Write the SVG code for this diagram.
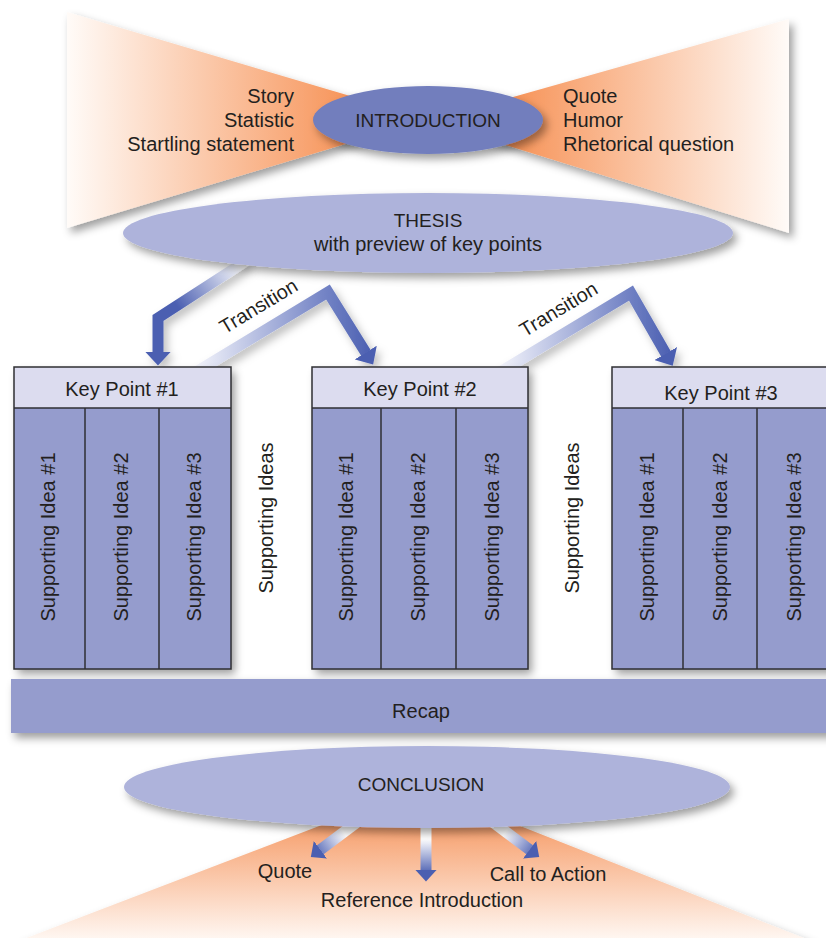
<svg xmlns="http://www.w3.org/2000/svg" width="826" height="938" viewBox="0 0 826 938">
  <defs>
    <style>
      text { font-family: "Liberation Sans", Arial, sans-serif; font-size: 20px; fill: #231f20; }
      .caps { font-size: 19px; }
      .mid { text-anchor: middle; }
      .end { text-anchor: end; }
      .shade { filter: url(#shadow); }
      .soft { filter: url(#softshadow); }
      .header { fill: #dcdcef; }
      .body { fill: #959ccd; }
      .frame { fill: none; stroke: #2f2f33; stroke-width: 1.5; }
      .divider { stroke: #2f2f33; stroke-width: 1.5; }
      .arrow { fill: none; stroke-width: 11; stroke-linejoin: miter; stroke-linecap: butt; }
    </style>
    <filter id="shadow" x="-10%" y="-20%" width="125%" height="150%">
      <feDropShadow dx="4" dy="5" stdDeviation="4" flood-color="#000" flood-opacity="0.38"/>
    </filter>
    <filter id="softshadow" x="-20%" y="-20%" width="150%" height="150%">
      <feDropShadow dx="4" dy="5" stdDeviation="4" flood-color="#000" flood-opacity="0.25"/>
    </filter>
    <linearGradient id="wingLeft" x1="0" y1="0" x2="1" y2="0">
      <stop offset="0" stop-color="#fffbf8"/>
      <stop offset="0.77" stop-color="#f7965c"/>
      <stop offset="1" stop-color="#f5884a"/>
    </linearGradient>
    <linearGradient id="wingRight" x1="1" y1="0" x2="0" y2="0">
      <stop offset="0" stop-color="#fffbf8"/>
      <stop offset="0.75" stop-color="#f7965c"/>
      <stop offset="1" stop-color="#f5884a"/>
    </linearGradient>
    <linearGradient id="fan" x1="0" y1="0" x2="0" y2="1">
      <stop offset="0" stop-color="#f5955e"/>
      <stop offset="0.3" stop-color="#f7a677"/>
      <stop offset="1" stop-color="#fff9f5"/>
    </linearGradient>
    <linearGradient id="gArrow1" gradientUnits="userSpaceOnUse" x1="242" y1="264" x2="180" y2="310">
      <stop offset="0" stop-color="#ffffff"/>
      <stop offset="1" stop-color="#4b5fb1"/>
    </linearGradient>
    <linearGradient id="gArrow2" gradientUnits="userSpaceOnUse" x1="196" y1="0" x2="372" y2="0">
      <stop offset="0" stop-color="#f3f4fb"/>
      <stop offset="0.72" stop-color="#7585c6"/>
      <stop offset="1" stop-color="#4b5fb1"/>
    </linearGradient>
    <linearGradient id="gArrow3" gradientUnits="userSpaceOnUse" x1="500" y1="0" x2="672" y2="0">
      <stop offset="0" stop-color="#f3f4fb"/>
      <stop offset="0.72" stop-color="#7585c6"/>
      <stop offset="1" stop-color="#4b5fb1"/>
    </linearGradient>
    <linearGradient id="gDownLeft" gradientUnits="userSpaceOnUse" x1="357" y1="824" x2="314" y2="854">
      <stop offset="0" stop-color="#ffffff"/>
      <stop offset="0.3" stop-color="#ffffff"/>
      <stop offset="1" stop-color="#4b5fb1"/>
    </linearGradient>
    <linearGradient id="gDown" gradientUnits="userSpaceOnUse" x1="0" y1="824" x2="0" y2="874">
      <stop offset="0" stop-color="#ffffff"/>
      <stop offset="0.3" stop-color="#ffffff"/>
      <stop offset="1" stop-color="#4b5fb1"/>
    </linearGradient>
    <linearGradient id="gDownRight" gradientUnits="userSpaceOnUse" x1="492" y1="824" x2="535" y2="854">
      <stop offset="0" stop-color="#ffffff"/>
      <stop offset="0.3" stop-color="#ffffff"/>
      <stop offset="1" stop-color="#4b5fb1"/>
    </linearGradient>
    <marker id="head" markerUnits="userSpaceOnUse" markerWidth="15" markerHeight="26" refX="0.5" refY="13" orient="auto">
      <path d="M0,0 L14,13 L0,26 z" fill="#4b5fb1"/>
    </marker>
    <marker id="headSmall" markerUnits="userSpaceOnUse" markerWidth="13" markerHeight="22" refX="0.5" refY="11" orient="auto">
      <path d="M0,0 L12,11 L0,22 z" fill="#4b5fb1"/>
    </marker>
  </defs>

  <rect width="826" height="938" fill="#ffffff"/>

  <!-- fan of closing options below the conclusion -->
  <g id="conclusion-fan">
    <polygon class="shade" points="421,787 16,942 814,942" fill="url(#fan)"/>
  </g>

  <!-- opening options: two wings of the bow tie -->
  <g id="intro-left">
    <polygon class="shade" points="67,12 428,119 67,228" fill="url(#wingLeft)"/>
    <text class="end" x="294" y="103">Story</text>
    <text class="end" x="294" y="127">Statistic</text>
    <text class="end" x="294" y="151">Startling statement</text>
  </g>
  <g id="intro-right">
    <polygon class="shade" points="789,19 428,121 789,233" fill="url(#wingRight)"/>
    <text x="563" y="103">Quote</text>
    <text x="563" y="127">Humor</text>
    <text x="563" y="151">Rhetorical question</text>
  </g>

  <g id="introduction">
    <ellipse class="shade" cx="428" cy="120" rx="115" ry="34" fill="#727ebd"/>
    <text class="caps mid" x="428" y="127">INTRODUCTION</text>
  </g>

  <!-- arrows: thesis to key points, transitions, conclusion endings -->
  <g id="connectors">
    <polyline class="arrow soft" points="246,261 158,318 158,352" stroke="url(#gArrow1)" marker-end="url(#head)"/>
    <polyline class="arrow soft" points="196,372 328,292 366,353" stroke="url(#gArrow2)" marker-end="url(#head)"/>
    <polyline class="arrow soft" points="500,372 631,293 666,354" stroke="url(#gArrow3)" marker-end="url(#head)"/>
    <text class="mid" transform="translate(262,312) rotate(-31)">Transition</text>
    <text class="mid" transform="translate(562,315) rotate(-31)">Transition</text>
    <polyline class="arrow" points="360,820 320,850" stroke="url(#gDownLeft)" marker-end="url(#headSmall)"/>
    <polyline class="arrow" points="426,820 426,870" stroke="url(#gDown)" marker-end="url(#headSmall)"/>
    <polyline class="arrow" points="490,820 530,850" stroke="url(#gDownRight)" marker-end="url(#headSmall)"/>
  </g>

  <g id="thesis">
    <ellipse class="shade" cx="428" cy="233" rx="305" ry="40" fill="#aeb3db"/>
    <text class="caps mid" x="428" y="227">THESIS</text>
    <text class="mid" x="428" y="251">with preview of key points</text>
  </g>

  <g id="key-point-1">
    <rect class="shade body" x="14" y="367" width="217" height="302"/>
    <rect class="header" x="14" y="367" width="217" height="41"/>
    <line class="divider" x1="14" y1="408" x2="231" y2="408"/>
    <line class="divider" x1="85" y1="408" x2="85" y2="669"/>
    <line class="divider" x1="159" y1="408" x2="159" y2="669"/>
    <rect class="frame" x="14" y="367" width="217" height="302"/>
    <text class="mid" x="122" y="396">Key Point #1</text>
    <text class="mid" transform="translate(55,537) rotate(-90)">Supporting Idea #1</text>
    <text class="mid" transform="translate(128,537) rotate(-90)">Supporting Idea #2</text>
    <text class="mid" transform="translate(201,537) rotate(-90)">Supporting Idea #3</text>
  </g>

  <g id="key-point-2">
    <rect class="shade body" x="312" y="367" width="216" height="302"/>
    <rect class="header" x="312" y="367" width="216" height="41"/>
    <line class="divider" x1="312" y1="408" x2="528" y2="408"/>
    <line class="divider" x1="381" y1="408" x2="381" y2="669"/>
    <line class="divider" x1="456" y1="408" x2="456" y2="669"/>
    <rect class="frame" x="312" y="367" width="216" height="302"/>
    <text class="mid" x="420" y="396">Key Point #2</text>
    <text class="mid" transform="translate(353,537) rotate(-90)">Supporting Idea #1</text>
    <text class="mid" transform="translate(425,537) rotate(-90)">Supporting Idea #2</text>
    <text class="mid" transform="translate(499,537) rotate(-90)">Supporting Idea #3</text>
  </g>

  <g id="key-point-3">
    <rect class="shade body" x="612" y="367" width="222" height="302"/>
    <rect class="header" x="612" y="367" width="222" height="41"/>
    <line class="divider" x1="612" y1="408" x2="834" y2="408"/>
    <line class="divider" x1="683" y1="408" x2="683" y2="669"/>
    <line class="divider" x1="757" y1="408" x2="757" y2="669"/>
    <rect class="frame" x="612" y="367" width="222" height="302"/>
    <text class="mid" x="721" y="400">Key Point #3</text>
    <text class="mid" transform="translate(654,537) rotate(-90)">Supporting Idea #1</text>
    <text class="mid" transform="translate(727,537) rotate(-90)">Supporting Idea #2</text>
    <text class="mid" transform="translate(801,537) rotate(-90)">Supporting Idea #3</text>
  </g>

  <g id="supporting-ideas-1">
    <text class="mid" transform="translate(273,518) rotate(-90)">Supporting Ideas</text>
  </g>
  <g id="supporting-ideas-2">
    <text class="mid" transform="translate(579,518) rotate(-90)">Supporting Ideas</text>
  </g>

  <g id="recap">
    <rect class="shade" x="11" y="679" width="830" height="54" fill="#959ccd"/>
    <text class="mid" x="421" y="718">Recap</text>
  </g>

  <g id="conclusion">
    <ellipse class="shade" cx="427" cy="787" rx="303" ry="41" fill="#aeb3db"/>
    <text class="caps mid" x="421" y="791">CONCLUSION</text>
  </g>

  <g id="conclusion-labels">
    <text class="mid" x="285" y="878">Quote</text>
    <text class="mid" x="422" y="907">Reference Introduction</text>
    <text class="mid" x="548" y="881">Call to Action</text>
  </g>
</svg>
